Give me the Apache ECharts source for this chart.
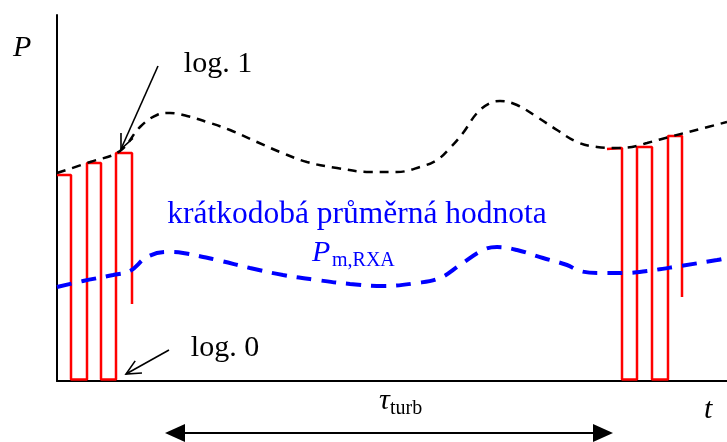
<!DOCTYPE html>
<html>
<head>
<meta charset="utf-8">
<script src="https://cdn.jsdelivr.net/npm/echarts@6/dist/echarts.min.js"></script>
<style>html,body{margin:0;padding:0;background:#fff}#c{width:727px;height:442px}</style>
</head>
<body>
<div id="c"></div>
<script>
// time axis units (t) and power units (P)
const tBlack = [0,33,63,83,100,113,130,150,173,200,223,250,280,313,340,363,380,393,406,420,433,443,460,480,500,520,540,558,575,590,616,643,670];
const pBlack = [208,219,230,254,266,268,265,259,251,239,229,219,213,209,209,214,221,233,248,268,278,280,276,264,251,239,234,233,234,238,245,252,259];
const tBlue = [0,26,56,73,90,110,126,160,193,226,260,293,326,360,383,403,426,440,460,486,510,523,543,566,590,623,660,670];
const pBlue = [94,100,106,110,124,129,128,121,113,106,101,97,95,98,103,116,131,134,131,123,116,110,108,108,110,115,121,123];
const tRedLeft = [0,14,14,30,30,44,44,59,59,75,75];
const pRedLeft = [206,206,1.5,1.5,218,218,1.5,1.5,228,228,77];
const tRedRight = [550,565,565,580,580,595,595,611,611,625,625];
const pRedRight = [232,233,1.5,1.5,234,234,1.5,1.5,245,245,84];

const zip = (a, b) => a.map((v, i) => [v, b[i]]);
const FONT = '"Liberation Serif", "Times New Roman", serif';

const chart = echarts.init(document.getElementById('c'), null, {renderer: 'canvas'});
const option = {
  animation: false,
  backgroundColor: '#fff',
  grid: {left: 57, right: 0, top: 15, bottom: 61},
  xAxis: {
    type: 'value', min: 0, max: 670,
    axisLine: {show: true, lineStyle: {color: '#000', width: 2}},
    axisTick: {show: false}, axisLabel: {show: false}, splitLine: {show: false}
  },
  yAxis: {
    type: 'value', min: 0, max: 366,
    axisLine: {show: true, lineStyle: {color: '#000', width: 2}},
    axisTick: {show: false}, axisLabel: {show: false}, splitLine: {show: false}
  },
  series: [
    {type: 'line', data: zip(tRedLeft, pRedLeft), showSymbol: false, clip: false,
     lineStyle: {color: '#ff0000', width: 2.5}},
    {type: 'line', data: zip(tRedRight, pRedRight), showSymbol: false, clip: false,
     lineStyle: {color: '#ff0000', width: 2.5}},
    {type: 'line', data: zip(tBlack, pBlack), showSymbol: false, smooth: 0.4, clip: false,
     lineStyle: {color: '#000', width: 2.5, type: [9, 7]}},
    {type: 'line', data: zip(tBlue, pBlue), showSymbol: false, smooth: 0.4, clip: false,
     lineStyle: {color: '#0000ff', width: 4, type: [15, 10]}}
  ]
};
chart.setOption(option);

const px = (t, p) => chart.convertToPixel({gridIndex: 0}, [t, p]);

function openArrow(from, to, head, ang) {
  const a = px(from[0], from[1]);
  const b = px(to[0], to[1]);
  const th = Math.atan2(a[1] - b[1], a[0] - b[0]);
  const h1 = [b[0] + head * Math.cos(th + ang), b[1] + head * Math.sin(th + ang)];
  const h2 = [b[0] + head * Math.cos(th - ang), b[1] + head * Math.sin(th - ang)];
  const st = {stroke: '#000', lineWidth: 1.6, fill: null};
  return [
    {type: 'polyline', shape: {points: [a, b]}, style: st},
    {type: 'polyline', shape: {points: [h1, b, h2]}, style: st}
  ];
}

function doubleArrow(t1, t2, p) {
  const a = px(t1, p), b = px(t2, p);
  const L = 20, W = 9;
  return [
    {type: 'line', shape: {x1: a[0] + L - 2, y1: a[1], x2: b[0] - L + 2, y2: b[1]}, style: {stroke: '#000', lineWidth: 2}},
    {type: 'polygon', shape: {points: [[a[0], a[1]], [a[0] + L, a[1] - W], [a[0] + L, a[1] + W]]}, style: {fill: '#000'}},
    {type: 'polygon', shape: {points: [[b[0], b[1]], [b[0] - L, b[1] - W], [b[0] - L, b[1] + W]]}, style: {fill: '#000'}}
  ];
}

// x, baseline y (converted to top-aligned box)
function txt(x, base, s, size, color, italic, align) {
  return {type: 'text', x: x, y: base - 0.78 * size, style: {
    text: s, fill: color, font: (italic ? 'italic ' : '') + size + 'px ' + FONT,
    align: align || 'left', verticalAlign: 'top' }};
}

const g = [].concat(
  openArrow([101, 315], [64, 232], 16, 0.42),
  openArrow([112, 31], [69, 7], 16, 0.45),
  doubleArrow(108, 556, -52),
  [
    txt(13, 57, 'P', 30, '#000', true),
    txt(218, 73, 'log. 1', 30, '#000', false, 'center'),
    txt(225, 357, 'log. 0', 30, '#000', false, 'center'),
    txt(357, 223, 'krátkodobá průměrná hodnota', 31.5, '#0000ff', false, 'center'),
    txt(312, 262, 'P', 30, '#0000ff', true),
    txt(332, 266, 'm,RXA', 20, '#0000ff', false),
    txt(379, 410, 'τ', 30, '#000', true),
    txt(390, 414, 'turb', 20, '#000', false),
    txt(704, 419, 't', 30, '#000', true)
  ]
);
chart.setOption({graphic: g});
</script>
</body>
</html>
